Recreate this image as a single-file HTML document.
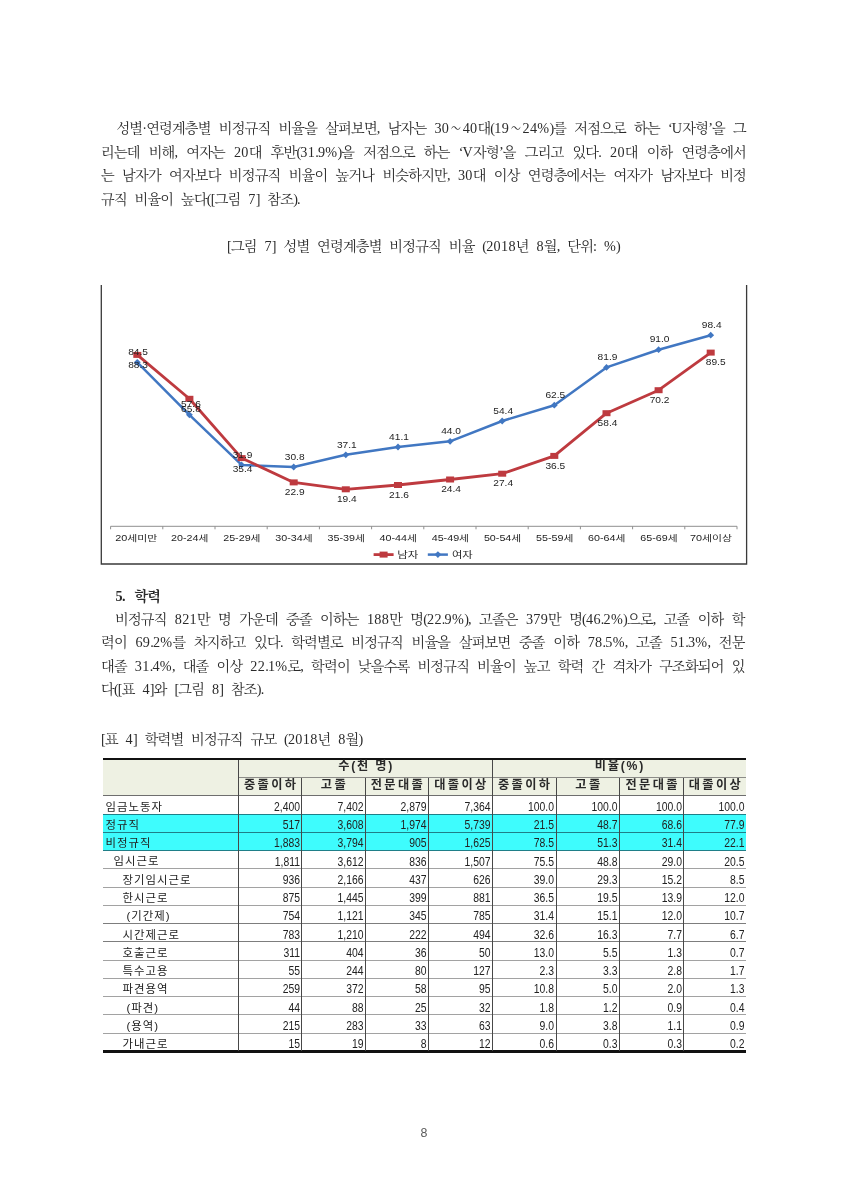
<!DOCTYPE html><html lang="ko"><head><meta charset="utf-8"><title>page 8</title><style>
html,body{margin:0;padding:0;background:#fff;}
body{width:848px;height:1200px;position:relative;overflow:hidden;font-family:"Liberation Serif", "Noto Serif CJK SC", serif;color:#222;}
.ln{position:absolute;left:101px;width:645px;height:24px;line-height:24px;font-size:14.2px;letter-spacing:-0.8px;word-spacing:5px;white-space:nowrap;text-align:justify;text-align-last:justify;text-justify:inter-word;color:#2a2a2a;}
.ln .a{letter-spacing:0.3px;}
.ln .t{display:inline-block;transform:scaleX(0.72);}
.ln.l{text-align:left;text-align-last:left;}
.ln.c{text-align:center;text-align-last:center;}
.ln.ind{left:115px;width:631px;}
.pg{position:absolute;top:1121px;left:0;width:848px;text-align:center;font-family:"Liberation Sans", "Noto Sans CJK KR", "NanumGothic", sans-serif;font-size:12.4px;line-height:24px;color:#5a5a5a;}
.tbl{position:absolute;left:103px;top:758.3px;width:643px;font-family:"Liberation Sans", "Noto Sans CJK KR", "NanumGothic", sans-serif;}
.cell{position:absolute;line-height:18px;height:18px;white-space:nowrap;color:#222;}
.lb{font-size:11.4px;letter-spacing:1px;}
.hd{font-size:12.2px;font-weight:bold;text-align:center;color:#2a2a2a;}
.num{text-align:right;font-size:13px;transform:scaleX(0.8);transform-origin:100% 50%;}
.hl{position:absolute;background:#8a8a8a;height:1px;}
.vl{position:absolute;background:#484848;width:1px;}
svg text{font-family:"Liberation Sans", "Noto Sans CJK KR", "NanumGothic", sans-serif;}
</style></head><body>
<div class="ln ind" style="top:116.1px;left:116.4px;width:629.6px">성별·연령계층별 비정규직 비율을 살펴보면, 남자는 <span class="a">30</span><span class="t">～</span><span class="a">40</span>대(<span class="a">19</span><span class="t">～</span><span class="a">24%</span>)를 저점으로 하는 ‘<span class="a">U</span>자형’을 그</div>
<div class="ln " style="top:139.7px;">리는데 비해, 여자는 <span class="a">20</span>대 후반(<span class="a">31</span>.<span class="a">9%</span>)을 저점으로 하는 ‘<span class="a">V</span>자형’을 그리고 있다. <span class="a">20</span>대 이하 연령층에서</div>
<div class="ln " style="top:163.3px;">는 남자가 여자보다 비정규직 비율이 높거나 비슷하지만, <span class="a">30</span>대 이상 연령층에서는 여자가 남자보다 비정</div>
<div class="ln l" style="top:186.9px;">규직 비율이 높다([그림 <span class="a">7</span>] 참조).</div>
<div class="ln c" style="top:234.1px;">[그림 <span class="a">7</span>] 성별 연령계층별 비정규직 비율 (<span class="a">2018</span>년 <span class="a">8</span>월, 단위: <span class="a">%</span>)</div>
<div class="ln ind" style="top:606.7px;width:629.6px">비정규직 <span class="a">821</span>만 명 가운데 중졸 이하는 <span class="a">188</span>만 명(<span class="a">22</span>.<span class="a">9%</span>), 고졸은 <span class="a">379</span>만 명(<span class="a">46</span>.<span class="a">2%</span>)으로, 고졸 이하 학</div>
<div class="ln " style="top:630.2px;width:643.6px">력이 <span class="a">69</span>.<span class="a">2%</span>를 차지하고 있다. 학력별로 비정규직 비율을 살펴보면 중졸 이하 <span class="a">78</span>.<span class="a">5%</span>, 고졸 <span class="a">51</span>.<span class="a">3%</span>, 전문</div>
<div class="ln " style="top:653.7px;width:643.6px">대졸 <span class="a">31</span>.<span class="a">4%</span>, 대졸 이상 <span class="a">22</span>.<span class="a">1%</span>로, 학력이 낮을수록 비정규직 비율이 높고 학력 간 격차가 구조화되어 있</div>
<div class="ln l" style="top:677.4px;">다([표 <span class="a">4</span>]와 [그림 <span class="a">8</span>] 참조).</div>
<div class="ln l" style="top:727.3px;">[표 <span class="a">4</span>] 학력별 비정규직 규모 (<span class="a">2018</span>년 <span class="a">8</span>월)</div>
<div class="ln l" style="top:584.3px;left:115.6px;font-weight:bold;word-spacing:7px">5. 학력</div>
<div class="pg">8</div>
<svg style="position:absolute;left:0;top:0" width="848" height="1200" viewBox="0 0 848 1200">
<path d="M101.3 285 V564 H746.6 V285" fill="none" stroke="#3a3a3a" stroke-width="1.3"/>
<path d="M110.6 526.3 H737.0" stroke="#8f8f8f" stroke-width="1" fill="none"/>
<path d="M110.6 526.3 v3 M162.8 526.3 v3 M215.0 526.3 v3 M267.2 526.3 v3 M319.4 526.3 v3 M371.6 526.3 v3 M423.8 526.3 v3 M476.0 526.3 v3 M528.2 526.3 v3 M580.4 526.3 v3 M632.6 526.3 v3 M684.8 526.3 v3 M737.0 526.3 v3 " stroke="#8f8f8f" stroke-width="1" fill="none"/>
<path d="M137.3 362.3 L189.4 414.8 L241.6 464.9 L293.7 467.0 L345.8 454.8 L398.0 447.0 L450.1 441.3 L502.2 421.0 L554.3 405.2 L606.5 367.4 L658.6 349.7 L710.7 335.2" fill="none" stroke="#4177c2" stroke-width="2.5" stroke-linejoin="round"/>
<path d="M137.3 358.9 l3.4 3.4 l-3.4 3.4 l-3.4 -3.4 z" fill="#4177c2"/>
<path d="M189.4 411.4 l3.4 3.4 l-3.4 3.4 l-3.4 -3.4 z" fill="#4177c2"/>
<path d="M241.6 461.5 l3.4 3.4 l-3.4 3.4 l-3.4 -3.4 z" fill="#4177c2"/>
<path d="M293.7 463.6 l3.4 3.4 l-3.4 3.4 l-3.4 -3.4 z" fill="#4177c2"/>
<path d="M345.8 451.4 l3.4 3.4 l-3.4 3.4 l-3.4 -3.4 z" fill="#4177c2"/>
<path d="M398.0 443.6 l3.4 3.4 l-3.4 3.4 l-3.4 -3.4 z" fill="#4177c2"/>
<path d="M450.1 437.9 l3.4 3.4 l-3.4 3.4 l-3.4 -3.4 z" fill="#4177c2"/>
<path d="M502.2 417.6 l3.4 3.4 l-3.4 3.4 l-3.4 -3.4 z" fill="#4177c2"/>
<path d="M554.3 401.8 l3.4 3.4 l-3.4 3.4 l-3.4 -3.4 z" fill="#4177c2"/>
<path d="M606.5 364.0 l3.4 3.4 l-3.4 3.4 l-3.4 -3.4 z" fill="#4177c2"/>
<path d="M658.6 346.3 l3.4 3.4 l-3.4 3.4 l-3.4 -3.4 z" fill="#4177c2"/>
<path d="M710.7 331.8 l3.4 3.4 l-3.4 3.4 l-3.4 -3.4 z" fill="#4177c2"/>
<path d="M137.3 354.9 L189.4 398.8 L241.6 458.1 L293.7 482.4 L345.8 489.3 L398.0 485.0 L450.1 479.5 L502.2 473.7 L554.3 455.9 L606.5 413.2 L658.6 390.2 L710.7 352.6" fill="none" stroke="#be3a3f" stroke-width="2.8" stroke-linejoin="round"/>
<rect x="133.3" y="351.9" width="8" height="6" fill="#be3a3f"/>
<rect x="185.4" y="395.8" width="8" height="6" fill="#be3a3f"/>
<rect x="237.6" y="455.1" width="8" height="6" fill="#be3a3f"/>
<rect x="289.7" y="479.4" width="8" height="6" fill="#be3a3f"/>
<rect x="341.8" y="486.3" width="8" height="6" fill="#be3a3f"/>
<rect x="394.0" y="482.0" width="8" height="6" fill="#be3a3f"/>
<rect x="446.1" y="476.5" width="8" height="6" fill="#be3a3f"/>
<rect x="498.2" y="470.7" width="8" height="6" fill="#be3a3f"/>
<rect x="550.3" y="452.9" width="8" height="6" fill="#be3a3f"/>
<rect x="602.5" y="410.2" width="8" height="6" fill="#be3a3f"/>
<rect x="654.6" y="387.2" width="8" height="6" fill="#be3a3f"/>
<rect x="706.7" y="349.6" width="8" height="6" fill="#be3a3f"/>
<text x="128.2" y="354.8" font-size="8.7" fill="#1e1e1e" textLength="19.8" lengthAdjust="spacingAndGlyphs">84.5</text>
<text x="181.0" y="406.5" font-size="8.7" fill="#1e1e1e" textLength="19.8" lengthAdjust="spacingAndGlyphs">57.6</text>
<text x="232.7" y="457.5" font-size="8.7" fill="#1e1e1e" textLength="19.8" lengthAdjust="spacingAndGlyphs">31.9</text>
<text x="284.8" y="459.7" font-size="8.7" fill="#1e1e1e" textLength="19.8" lengthAdjust="spacingAndGlyphs">30.8</text>
<text x="336.9" y="447.5" font-size="8.7" fill="#1e1e1e" textLength="19.8" lengthAdjust="spacingAndGlyphs">37.1</text>
<text x="389.1" y="439.7" font-size="8.7" fill="#1e1e1e" textLength="19.8" lengthAdjust="spacingAndGlyphs">41.1</text>
<text x="441.2" y="434.0" font-size="8.7" fill="#1e1e1e" textLength="19.8" lengthAdjust="spacingAndGlyphs">44.0</text>
<text x="493.3" y="413.7" font-size="8.7" fill="#1e1e1e" textLength="19.8" lengthAdjust="spacingAndGlyphs">54.4</text>
<text x="545.4" y="397.9" font-size="8.7" fill="#1e1e1e" textLength="19.8" lengthAdjust="spacingAndGlyphs">62.5</text>
<text x="597.6" y="360.1" font-size="8.7" fill="#1e1e1e" textLength="19.8" lengthAdjust="spacingAndGlyphs">81.9</text>
<text x="649.7" y="342.4" font-size="8.7" fill="#1e1e1e" textLength="19.8" lengthAdjust="spacingAndGlyphs">91.0</text>
<text x="701.8" y="327.9" font-size="8.7" fill="#1e1e1e" textLength="19.8" lengthAdjust="spacingAndGlyphs">98.4</text>
<text x="128.2" y="367.5" font-size="8.7" fill="#1e1e1e" textLength="19.8" lengthAdjust="spacingAndGlyphs">88.3</text>
<text x="181.0" y="411.8" font-size="8.7" fill="#1e1e1e" textLength="19.8" lengthAdjust="spacingAndGlyphs">65.8</text>
<text x="232.7" y="471.5" font-size="8.7" fill="#1e1e1e" textLength="19.8" lengthAdjust="spacingAndGlyphs">35.4</text>
<text x="284.8" y="495.0" font-size="8.7" fill="#1e1e1e" textLength="19.8" lengthAdjust="spacingAndGlyphs">22.9</text>
<text x="336.9" y="501.9" font-size="8.7" fill="#1e1e1e" textLength="19.8" lengthAdjust="spacingAndGlyphs">19.4</text>
<text x="389.1" y="497.6" font-size="8.7" fill="#1e1e1e" textLength="19.8" lengthAdjust="spacingAndGlyphs">21.6</text>
<text x="441.2" y="492.1" font-size="8.7" fill="#1e1e1e" textLength="19.8" lengthAdjust="spacingAndGlyphs">24.4</text>
<text x="493.3" y="486.3" font-size="8.7" fill="#1e1e1e" textLength="19.8" lengthAdjust="spacingAndGlyphs">27.4</text>
<text x="545.4" y="468.5" font-size="8.7" fill="#1e1e1e" textLength="19.8" lengthAdjust="spacingAndGlyphs">36.5</text>
<text x="597.6" y="425.8" font-size="8.7" fill="#1e1e1e" textLength="19.8" lengthAdjust="spacingAndGlyphs">58.4</text>
<text x="649.7" y="402.8" font-size="8.7" fill="#1e1e1e" textLength="19.8" lengthAdjust="spacingAndGlyphs">70.2</text>
<text x="705.8" y="364.9" font-size="8.7" fill="#1e1e1e" textLength="19.8" lengthAdjust="spacingAndGlyphs">89.5</text>
<text x="115.3" y="541" font-size="8.4" fill="#1e1e1e" textLength="42" lengthAdjust="spacingAndGlyphs">20세미만</text>
<text x="171.1" y="541" font-size="8.4" fill="#1e1e1e" textLength="37.3" lengthAdjust="spacingAndGlyphs">20-24세</text>
<text x="223.2" y="541" font-size="8.4" fill="#1e1e1e" textLength="37.3" lengthAdjust="spacingAndGlyphs">25-29세</text>
<text x="275.3" y="541" font-size="8.4" fill="#1e1e1e" textLength="37.3" lengthAdjust="spacingAndGlyphs">30-34세</text>
<text x="327.5" y="541" font-size="8.4" fill="#1e1e1e" textLength="37.3" lengthAdjust="spacingAndGlyphs">35-39세</text>
<text x="379.6" y="541" font-size="8.4" fill="#1e1e1e" textLength="37.3" lengthAdjust="spacingAndGlyphs">40-44세</text>
<text x="431.7" y="541" font-size="8.4" fill="#1e1e1e" textLength="37.3" lengthAdjust="spacingAndGlyphs">45-49세</text>
<text x="483.9" y="541" font-size="8.4" fill="#1e1e1e" textLength="37.3" lengthAdjust="spacingAndGlyphs">50-54세</text>
<text x="536.0" y="541" font-size="8.4" fill="#1e1e1e" textLength="37.3" lengthAdjust="spacingAndGlyphs">55-59세</text>
<text x="588.1" y="541" font-size="8.4" fill="#1e1e1e" textLength="37.3" lengthAdjust="spacingAndGlyphs">60-64세</text>
<text x="640.3" y="541" font-size="8.4" fill="#1e1e1e" textLength="37.3" lengthAdjust="spacingAndGlyphs">65-69세</text>
<text x="690.0" y="541" font-size="8.4" fill="#1e1e1e" textLength="42" lengthAdjust="spacingAndGlyphs">70세이상</text>
<path d="M373.6 554.6 H393.6" stroke="#be3a3f" stroke-width="2.8"/><rect x="379.6" y="551.6" width="8" height="6" fill="#be3a3f"/>
<text x="397.2" y="558" font-size="8.6" fill="#1e1e1e" textLength="21.2" lengthAdjust="spacingAndGlyphs">남자</text>
<path d="M427.8 554.6 H447.9" stroke="#4177c2" stroke-width="2.5"/><path d="M437.9 551.2 l3.4 3.4 l-3.4 3.4 l-3.4 -3.4 z" fill="#4177c2"/>
<text x="451.9" y="558" font-size="8.6" fill="#1e1e1e" textLength="20.8" lengthAdjust="spacingAndGlyphs">여자</text>
</svg>
<div class="tbl">
<div style="position:absolute;left:0;top:0;width:643px;height:2.15px;background:#111"></div>
<div style="position:absolute;left:0;top:2.15px;width:643px;height:35.35px;background:#eef1e3"></div>
<div style="position:absolute;left:0;top:55.76px;width:643px;height:36.52px;background:#3efcfd"></div>
<div class="hl" style="left:135.5px;top:18.9px;width:507.5px;background:#8c8c88"></div>
<div class="hl" style="left:0;top:37.0px;width:643px;background:#6e6e6e"></div>
<div class="hl" style="left:0;top:55.26px;width:643px;background:#1f7f88"></div>
<div class="hl" style="left:0;top:73.52px;width:643px;background:#1f7f88"></div>
<div class="hl" style="left:0;top:91.78px;width:643px;background:#1f7f88"></div>
<div class="hl" style="left:0;top:110.04px;width:643px;background:#a2a2a2"></div>
<div class="hl" style="left:0;top:128.30px;width:643px;background:#a2a2a2"></div>
<div class="hl" style="left:0;top:146.56px;width:643px;background:#a2a2a2"></div>
<div class="hl" style="left:0;top:164.82px;width:643px;background:#7d7d7d"></div>
<div class="hl" style="left:0;top:183.08px;width:643px;background:#7d7d7d"></div>
<div class="hl" style="left:0;top:201.34px;width:643px;background:#a2a2a2"></div>
<div class="hl" style="left:0;top:219.60px;width:643px;background:#a2a2a2"></div>
<div class="hl" style="left:0;top:237.86px;width:643px;background:#a2a2a2"></div>
<div class="hl" style="left:0;top:256.12px;width:643px;background:#a2a2a2"></div>
<div class="hl" style="left:0;top:274.38px;width:643px;background:#a2a2a2"></div>
<div style="position:absolute;left:0;top:291.94px;width:643px;height:2.5px;background:#111"></div>
<div class="vl" style="left:135.0px;top:2.15px;height:290.99px"></div>
<div class="vl" style="left:198.0px;top:19.4px;height:273.74px"></div>
<div class="vl" style="left:261.5px;top:19.4px;height:273.74px"></div>
<div class="vl" style="left:325.0px;top:19.4px;height:273.74px"></div>
<div class="vl" style="left:388.5px;top:2.15px;height:290.99px"></div>
<div class="vl" style="left:452.5px;top:19.4px;height:273.74px"></div>
<div class="vl" style="left:516.0px;top:19.4px;height:273.74px"></div>
<div class="vl" style="left:580.0px;top:19.4px;height:273.74px"></div>
<div class="cell hd" style="left:135.5px;width:253.5px;top:-1.0500000000000003px;letter-spacing:1.8px"><span style="margin-right:-1.8px">수(천 명)</span></div>
<div class="cell hd" style="left:389px;width:254px;top:-1.0500000000000003px;letter-spacing:1.8px"><span style="margin-right:-1.8px">비율(%)</span></div>
<div class="cell hd" style="left:135.5px;width:63.0px;top:17.7px;letter-spacing:2.4px"><span style="margin-right:-2.4px">중졸이하</span></div>
<div class="cell hd" style="left:198.5px;width:63.5px;top:17.7px;letter-spacing:2.4px"><span style="margin-right:-2.4px">고졸</span></div>
<div class="cell hd" style="left:262px;width:63.5px;top:17.7px;letter-spacing:2.4px"><span style="margin-right:-2.4px">전문대졸</span></div>
<div class="cell hd" style="left:325.5px;width:63.5px;top:17.7px;letter-spacing:2.4px"><span style="margin-right:-2.4px">대졸이상</span></div>
<div class="cell hd" style="left:389px;width:64px;top:17.7px;letter-spacing:2.4px"><span style="margin-right:-2.4px">중졸이하</span></div>
<div class="cell hd" style="left:453px;width:63.5px;top:17.7px;letter-spacing:2.4px"><span style="margin-right:-2.4px">고졸</span></div>
<div class="cell hd" style="left:516.5px;width:64.0px;top:17.7px;letter-spacing:2.4px"><span style="margin-right:-2.4px">전문대졸</span></div>
<div class="cell hd" style="left:580.5px;width:62.5px;top:17.7px;letter-spacing:2.4px"><span style="margin-right:-2.4px">대졸이상</span></div>
<div class="cell lb" style="left:2.5px;top:39.40px">임금노동자</div>
<div class="cell num" style="left:135.5px;width:61.0px;top:39.50px">2,400</div>
<div class="cell num" style="left:198.5px;width:61.5px;top:39.50px">7,402</div>
<div class="cell num" style="left:262px;width:61.5px;top:39.50px">2,879</div>
<div class="cell num" style="left:325.5px;width:61.5px;top:39.50px">7,364</div>
<div class="cell num" style="left:389px;width:62px;top:39.50px">100.0</div>
<div class="cell num" style="left:453px;width:61.5px;top:39.50px">100.0</div>
<div class="cell num" style="left:516.5px;width:62.0px;top:39.50px">100.0</div>
<div class="cell num" style="left:580.5px;width:60.5px;top:39.50px">100.0</div>
<div class="cell lb" style="left:2.5px;top:57.66px">정규직</div>
<div class="cell num" style="left:135.5px;width:61.0px;top:57.76px">517</div>
<div class="cell num" style="left:198.5px;width:61.5px;top:57.76px">3,608</div>
<div class="cell num" style="left:262px;width:61.5px;top:57.76px">1,974</div>
<div class="cell num" style="left:325.5px;width:61.5px;top:57.76px">5,739</div>
<div class="cell num" style="left:389px;width:62px;top:57.76px">21.5</div>
<div class="cell num" style="left:453px;width:61.5px;top:57.76px">48.7</div>
<div class="cell num" style="left:516.5px;width:62.0px;top:57.76px">68.6</div>
<div class="cell num" style="left:580.5px;width:60.5px;top:57.76px">77.9</div>
<div class="cell lb" style="left:2.5px;top:75.92px">비정규직</div>
<div class="cell num" style="left:135.5px;width:61.0px;top:76.02px">1,883</div>
<div class="cell num" style="left:198.5px;width:61.5px;top:76.02px">3,794</div>
<div class="cell num" style="left:262px;width:61.5px;top:76.02px">905</div>
<div class="cell num" style="left:325.5px;width:61.5px;top:76.02px">1,625</div>
<div class="cell num" style="left:389px;width:62px;top:76.02px">78.5</div>
<div class="cell num" style="left:453px;width:61.5px;top:76.02px">51.3</div>
<div class="cell num" style="left:516.5px;width:62.0px;top:76.02px">31.4</div>
<div class="cell num" style="left:580.5px;width:60.5px;top:76.02px">22.1</div>
<div class="cell lb" style="left:10.5px;top:94.18px">임시근로</div>
<div class="cell num" style="left:135.5px;width:61.0px;top:94.28px">1,811</div>
<div class="cell num" style="left:198.5px;width:61.5px;top:94.28px">3,612</div>
<div class="cell num" style="left:262px;width:61.5px;top:94.28px">836</div>
<div class="cell num" style="left:325.5px;width:61.5px;top:94.28px">1,507</div>
<div class="cell num" style="left:389px;width:62px;top:94.28px">75.5</div>
<div class="cell num" style="left:453px;width:61.5px;top:94.28px">48.8</div>
<div class="cell num" style="left:516.5px;width:62.0px;top:94.28px">29.0</div>
<div class="cell num" style="left:580.5px;width:60.5px;top:94.28px">20.5</div>
<div class="cell lb" style="left:19.5px;top:112.44px">장기임시근로</div>
<div class="cell num" style="left:135.5px;width:61.0px;top:112.54px">936</div>
<div class="cell num" style="left:198.5px;width:61.5px;top:112.54px">2,166</div>
<div class="cell num" style="left:262px;width:61.5px;top:112.54px">437</div>
<div class="cell num" style="left:325.5px;width:61.5px;top:112.54px">626</div>
<div class="cell num" style="left:389px;width:62px;top:112.54px">39.0</div>
<div class="cell num" style="left:453px;width:61.5px;top:112.54px">29.3</div>
<div class="cell num" style="left:516.5px;width:62.0px;top:112.54px">15.2</div>
<div class="cell num" style="left:580.5px;width:60.5px;top:112.54px">8.5</div>
<div class="cell lb" style="left:19.5px;top:130.70px">한시근로</div>
<div class="cell num" style="left:135.5px;width:61.0px;top:130.80px">875</div>
<div class="cell num" style="left:198.5px;width:61.5px;top:130.80px">1,445</div>
<div class="cell num" style="left:262px;width:61.5px;top:130.80px">399</div>
<div class="cell num" style="left:325.5px;width:61.5px;top:130.80px">881</div>
<div class="cell num" style="left:389px;width:62px;top:130.80px">36.5</div>
<div class="cell num" style="left:453px;width:61.5px;top:130.80px">19.5</div>
<div class="cell num" style="left:516.5px;width:62.0px;top:130.80px">13.9</div>
<div class="cell num" style="left:580.5px;width:60.5px;top:130.80px">12.0</div>
<div class="cell lb" style="left:23.5px;top:148.96px">(기간제)</div>
<div class="cell num" style="left:135.5px;width:61.0px;top:149.06px">754</div>
<div class="cell num" style="left:198.5px;width:61.5px;top:149.06px">1,121</div>
<div class="cell num" style="left:262px;width:61.5px;top:149.06px">345</div>
<div class="cell num" style="left:325.5px;width:61.5px;top:149.06px">785</div>
<div class="cell num" style="left:389px;width:62px;top:149.06px">31.4</div>
<div class="cell num" style="left:453px;width:61.5px;top:149.06px">15.1</div>
<div class="cell num" style="left:516.5px;width:62.0px;top:149.06px">12.0</div>
<div class="cell num" style="left:580.5px;width:60.5px;top:149.06px">10.7</div>
<div class="cell lb" style="left:19.5px;top:167.22px">시간제근로</div>
<div class="cell num" style="left:135.5px;width:61.0px;top:167.32px">783</div>
<div class="cell num" style="left:198.5px;width:61.5px;top:167.32px">1,210</div>
<div class="cell num" style="left:262px;width:61.5px;top:167.32px">222</div>
<div class="cell num" style="left:325.5px;width:61.5px;top:167.32px">494</div>
<div class="cell num" style="left:389px;width:62px;top:167.32px">32.6</div>
<div class="cell num" style="left:453px;width:61.5px;top:167.32px">16.3</div>
<div class="cell num" style="left:516.5px;width:62.0px;top:167.32px">7.7</div>
<div class="cell num" style="left:580.5px;width:60.5px;top:167.32px">6.7</div>
<div class="cell lb" style="left:19.5px;top:185.48px">호출근로</div>
<div class="cell num" style="left:135.5px;width:61.0px;top:185.58px">311</div>
<div class="cell num" style="left:198.5px;width:61.5px;top:185.58px">404</div>
<div class="cell num" style="left:262px;width:61.5px;top:185.58px">36</div>
<div class="cell num" style="left:325.5px;width:61.5px;top:185.58px">50</div>
<div class="cell num" style="left:389px;width:62px;top:185.58px">13.0</div>
<div class="cell num" style="left:453px;width:61.5px;top:185.58px">5.5</div>
<div class="cell num" style="left:516.5px;width:62.0px;top:185.58px">1.3</div>
<div class="cell num" style="left:580.5px;width:60.5px;top:185.58px">0.7</div>
<div class="cell lb" style="left:19.5px;top:203.74px">특수고용</div>
<div class="cell num" style="left:135.5px;width:61.0px;top:203.84px">55</div>
<div class="cell num" style="left:198.5px;width:61.5px;top:203.84px">244</div>
<div class="cell num" style="left:262px;width:61.5px;top:203.84px">80</div>
<div class="cell num" style="left:325.5px;width:61.5px;top:203.84px">127</div>
<div class="cell num" style="left:389px;width:62px;top:203.84px">2.3</div>
<div class="cell num" style="left:453px;width:61.5px;top:203.84px">3.3</div>
<div class="cell num" style="left:516.5px;width:62.0px;top:203.84px">2.8</div>
<div class="cell num" style="left:580.5px;width:60.5px;top:203.84px">1.7</div>
<div class="cell lb" style="left:19.5px;top:222.00px">파견용역</div>
<div class="cell num" style="left:135.5px;width:61.0px;top:222.10px">259</div>
<div class="cell num" style="left:198.5px;width:61.5px;top:222.10px">372</div>
<div class="cell num" style="left:262px;width:61.5px;top:222.10px">58</div>
<div class="cell num" style="left:325.5px;width:61.5px;top:222.10px">95</div>
<div class="cell num" style="left:389px;width:62px;top:222.10px">10.8</div>
<div class="cell num" style="left:453px;width:61.5px;top:222.10px">5.0</div>
<div class="cell num" style="left:516.5px;width:62.0px;top:222.10px">2.0</div>
<div class="cell num" style="left:580.5px;width:60.5px;top:222.10px">1.3</div>
<div class="cell lb" style="left:23.5px;top:240.26px">(파견)</div>
<div class="cell num" style="left:135.5px;width:61.0px;top:240.36px">44</div>
<div class="cell num" style="left:198.5px;width:61.5px;top:240.36px">88</div>
<div class="cell num" style="left:262px;width:61.5px;top:240.36px">25</div>
<div class="cell num" style="left:325.5px;width:61.5px;top:240.36px">32</div>
<div class="cell num" style="left:389px;width:62px;top:240.36px">1.8</div>
<div class="cell num" style="left:453px;width:61.5px;top:240.36px">1.2</div>
<div class="cell num" style="left:516.5px;width:62.0px;top:240.36px">0.9</div>
<div class="cell num" style="left:580.5px;width:60.5px;top:240.36px">0.4</div>
<div class="cell lb" style="left:23.5px;top:258.52px">(용역)</div>
<div class="cell num" style="left:135.5px;width:61.0px;top:258.62px">215</div>
<div class="cell num" style="left:198.5px;width:61.5px;top:258.62px">283</div>
<div class="cell num" style="left:262px;width:61.5px;top:258.62px">33</div>
<div class="cell num" style="left:325.5px;width:61.5px;top:258.62px">63</div>
<div class="cell num" style="left:389px;width:62px;top:258.62px">9.0</div>
<div class="cell num" style="left:453px;width:61.5px;top:258.62px">3.8</div>
<div class="cell num" style="left:516.5px;width:62.0px;top:258.62px">1.1</div>
<div class="cell num" style="left:580.5px;width:60.5px;top:258.62px">0.9</div>
<div class="cell lb" style="left:19.5px;top:276.78px">가내근로</div>
<div class="cell num" style="left:135.5px;width:61.0px;top:276.88px">15</div>
<div class="cell num" style="left:198.5px;width:61.5px;top:276.88px">19</div>
<div class="cell num" style="left:262px;width:61.5px;top:276.88px">8</div>
<div class="cell num" style="left:325.5px;width:61.5px;top:276.88px">12</div>
<div class="cell num" style="left:389px;width:62px;top:276.88px">0.6</div>
<div class="cell num" style="left:453px;width:61.5px;top:276.88px">0.3</div>
<div class="cell num" style="left:516.5px;width:62.0px;top:276.88px">0.3</div>
<div class="cell num" style="left:580.5px;width:60.5px;top:276.88px">0.2</div>
</div>
</body></html>
